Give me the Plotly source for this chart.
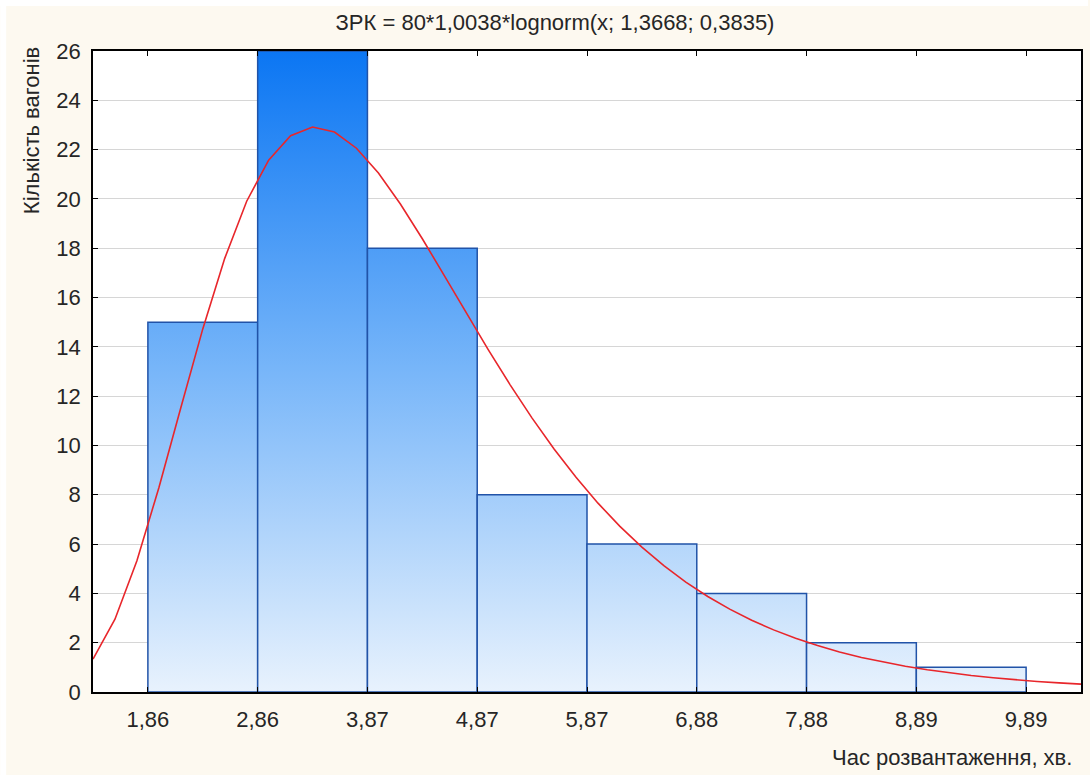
import math
import plotly.graph_objects as go

# Histogram of unloading times (8 bins) with fitted lognormal curve
bin_start = 1.859
bin_width = 1.0038
counts = [15, 26, 18, 8, 6, 4, 2, 1]
tick_labels = ["1,86", "2,86", "3,87", "4,87", "5,87", "6,88", "7,88", "8,89", "9,89"]

# Fit parameters shown in the title: N * width * lognorm(x; mu, sigma)
n_obs = 80
fit_mu = 1.3668
fit_sigma = 0.3835
curve_points = 46

edges = [bin_start + i * bin_width for i in range(len(counts) + 1)]
x_lo = edges[0] - bin_width / 2
x_hi = edges[-1] + bin_width / 2

PX_L, PX_R, PX_T, PX_B = 93, 1083, 51, 692
W, H = 1090, 775
PW, PH = PX_R - PX_L, PX_B - PX_T


def px_x(px):
    return (px - PX_L) / PW


def px_y(py):
    return (PX_B - py) / PH


gradient = dict(
    type="vertical",
    start=0,
    stop=26,
    colorscale=[[0.0, "#e8f2fd"], [0.5, "#78b6f9"], [1.0, "#0b76f3"]],
)

fig = go.Figure()

for i, c in enumerate(counts):
    x0, x1 = edges[i], edges[i + 1]
    fig.add_trace(go.Scatter(
        x=[x0, x0, x1, x1, x0],
        y=[0, c, c, 0, 0],
        mode="lines",
        fill="toself",
        fillgradient=gradient,
        line=dict(color="#2153a8", width=1.5),
        hoverinfo="skip",
        showlegend=False,
    ))


def lognorm_pdf(x, mu, s):
    return math.exp(-((math.log(x) - mu) ** 2) / (2 * s * s)) / (x * s * math.sqrt(2 * math.pi))


cx = [x_lo + (x_hi - x_lo) * k / (curve_points - 1) for k in range(curve_points)]
cy = [n_obs * bin_width * lognorm_pdf(v, fit_mu, fit_sigma) for v in cx]

fig.add_trace(go.Scatter(
    x=cx, y=cy, mode="lines",
    line=dict(color="#e8262b", width=1.6),
    showlegend=False, hoverinfo="skip",
))

font_family = "Liberation Sans, Arial, sans-serif"
text_color = "#262626"
fs = 22

fig.update_layout(
    width=W, height=H,
    margin=dict(l=PX_L, r=W - PX_R, t=PX_T, b=H - PX_B),
    paper_bgcolor="#fdf9f0",
    plot_bgcolor="#ffffff",
    font=dict(family=font_family, size=fs, color=text_color),
    title=dict(
        text="ЗРК = 80*1,0038*lognorm(x; 1,3668; 0,3835)",
        xref="container", yref="container",
        x=555 / W, y=1 - 22 / H, xanchor="center", yanchor="middle",
        font=dict(size=fs, color=text_color),
    ),
    xaxis=dict(
        range=[x_lo, x_hi],
        tickvals=edges,
        ticktext=tick_labels,
        showgrid=False, zeroline=False,
        showline=True, linecolor="#000000", linewidth=1.5, mirror="allticks",
        ticks="inside", ticklen=5, tickcolor="#000000",
        tickfont=dict(size=fs, color=text_color),
        ticklabelstandoff=7,
    ),
    yaxis=dict(
        range=[0, 26], dtick=2, tick0=0,
        showgrid=True, gridcolor="#d6d6d6", gridwidth=1,
        zeroline=False,
        showline=True, linecolor="#000000", linewidth=1.5, mirror="allticks",
        ticks="inside", ticklen=5, tickcolor="#000000",
        tickfont=dict(size=fs, color=text_color),
        ticklabelstandoff=6,
    ),
    shapes=[
        dict(type="rect", xref="paper", yref="paper", layer="below",
             x0=px_x(0), x1=px_x(W), y0=px_y(6), y1=px_y(0),
             fillcolor="#ffffff", line=dict(width=0)),
        dict(type="rect", xref="paper", yref="paper", layer="below",
             x0=px_x(0), x1=px_x(6), y0=px_y(H), y1=px_y(0),
             fillcolor="#ffffff", line=dict(width=0)),
    ],
    annotations=[
        dict(text="Кількість вагонів", xref="paper", yref="paper",
             x=px_x(31), y=px_y(131), xanchor="center", yanchor="middle",
             textangle=-90, showarrow=False,
             font=dict(size=fs, color=text_color)),
        dict(text="Час розвантаження, хв.", xref="paper", yref="paper",
             x=px_x(1076), y=px_y(757), xanchor="right", yanchor="middle",
             showarrow=False, font=dict(size=fs, color=text_color)),
    ],
)

fig.write_html("out.html")
